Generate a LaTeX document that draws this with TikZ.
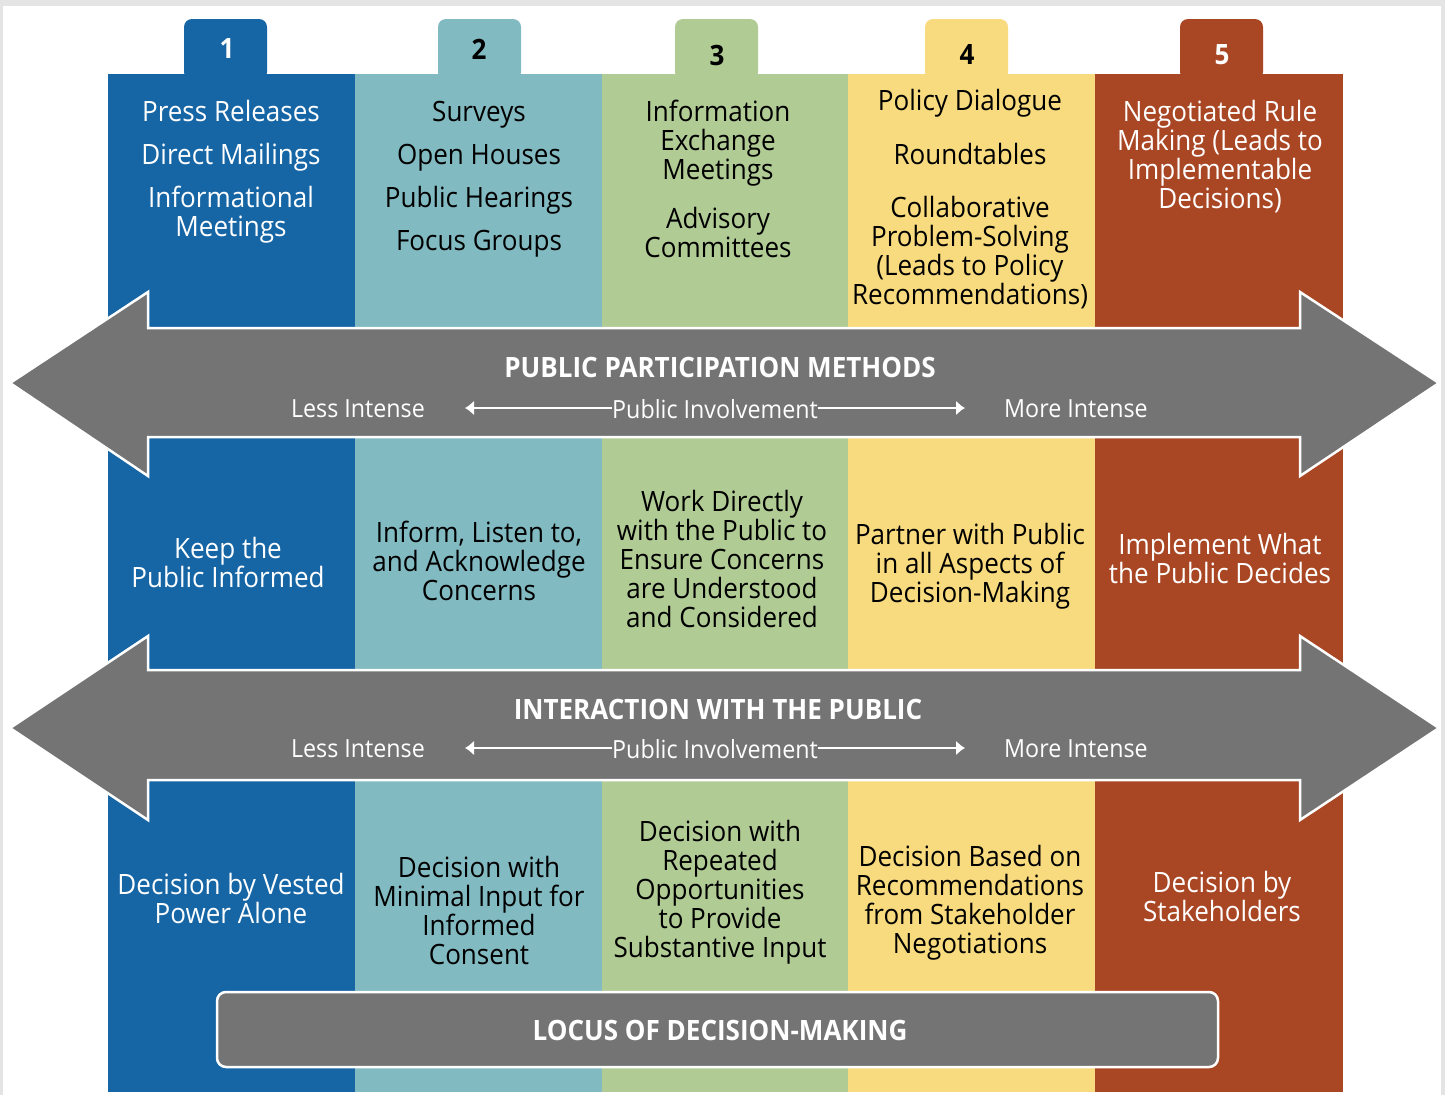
\documentclass[tikz,border=0pt]{standalone}
\usepackage{fontspec}
\setmainfont{Open Sans}[FakeStretch=0.93]
\usetikzlibrary{arrows.meta}
\definecolor{colblue}{HTML}{1665A5}
\definecolor{colteal}{HTML}{82BAC2}
\definecolor{colgreen}{HTML}{B0CB94}
\definecolor{colyellow}{HTML}{F8DB7E}
\definecolor{colred}{HTML}{A94725}
\definecolor{bandgray}{HTML}{747474}
\definecolor{framegray}{HTML}{E4E4E4}
\begin{document}
\begin{tikzpicture}[x=1pt,y=-1pt,
    txt/.style={align=center,inner sep=0pt,font=\fontsize{28}{29}\selectfont},
    wtxt/.style={txt,text=white},
    tabnum/.style={inner sep=0pt,text=white,font=\fontsize{28}{30}\selectfont\bfseries},
    head/.style={inner sep=0pt,text=white,font=\fontsize{28}{30}\selectfont\bfseries},
    small/.style={inner sep=0pt,text=white,font=\fontsize{25}{27}\selectfont},
    band/.style={fill=bandgray,draw=white,line width=2.5pt,line join=miter},
    tick/.style={white,line width=2pt,-{Latex[length=9pt,width=15pt]}}]
  \useasboundingbox (0,0) rectangle (1445,1095);
  \fill[framegray] (0,0) rectangle (1445,1095);
  \fill[white] (3,6) rectangle (1441,1095);
  % columns and tabs
  \foreach \cc/\xl/\tx in {colblue/108/184,colteal/355/438,colgreen/602/675,colyellow/848/925,colred/1095/1180} {
    \fill[\cc] (\xl,74) rectangle ++(247.5,1018);
    \fill[\cc,rounded corners=8pt] (\tx,80) -- (\tx,19) -- ++(83,0) -- ++(0,61) -- cycle;
  }
  \node[tabnum] (n1) at (227,49) {1};
  \node[tabnum,text=black] (n2) at (479,49) {2};
  \node[tabnum,text=black] (n3) at (717,55) {3};
  \node[tabnum,text=black] (n4) at (967,55) {4};
  \node[tabnum] (n5) at (1222,55) {5};
  % methods
  \node[wtxt] (m1) at (231,171.5) {Press Releases\\[14pt]Direct Mailings\\[14pt]Informational\\Meetings};
  \node[txt] (m2) at (479,179) {Surveys\\[14pt]Open Houses\\[14pt]Public Hearings\\[14pt]Focus Groups};
  \node[txt] (m3) at (718,179) {Information\\Exchange\\Meetings\\[20pt]Advisory\\Committees};
  \node[txt] (m4) at (970,199.5) {Policy Dialogue\\[25pt]Roundtables\\[24pt]Collaborative\\Problem-Solving\\(Leads to Policy\\Recommendations)};
  \node[wtxt] (m5) at (1220,156.5) {Negotiated Rule\\Making (Leads to\\Implementable\\Decisions)};
  % first band
  \draw[band] (10,383) -- (148,292) -- (148,328) -- (1300,328) -- (1300,292) -- (1439,383)
    -- (1300,476) -- (1300,437) -- (148,437) -- (148,476) -- cycle;
  \node[head] (h1) at (720,367) {PUBLIC PARTICIPATION METHODS};
  \node[small] (li1) at (358,409) {Less Intense};
  \node[small] (pi1) at (715,409) {Public Involvement};
  \node[small] (mi1) at (1076,409) {More Intense};
  \coordinate (la1) at (465,408);
  \coordinate (ra1) at (965,408);
  \draw[tick] (pi1.west |- la1) -- (la1);
  \draw[tick] (pi1.east |- ra1) -- (ra1);
  % interaction
  \node[wtxt] (i1) at (228,562) {Keep the\\Public Informed};
  \node[txt] (i2) at (479,561) {Inform, Listen to,\\and Acknowledge\\Concerns};
  \node[txt] (i3) at (722,559) {Work Directly\\with the Public to\\Ensure Concerns\\are Understood\\and Considered};
  \node[txt] (i4) at (970,566) {Partner with Public\\in all Aspects of\\Decision-Making};
  \node[wtxt] (i5) at (1220,558.5) {Implement What\\the Public Decides};
  % second band
  \draw[band] (10,728) -- (148,636) -- (148,670) -- (1300,670) -- (1300,636) -- (1439,728)
    -- (1300,820) -- (1300,780) -- (148,780) -- (148,820) -- cycle;
  \node[head] (h2) at (718,709) {INTERACTION WITH THE PUBLIC};
  \node[small] (li2) at (358,749) {Less Intense};
  \node[small] (pi2) at (715,749) {Public Involvement};
  \node[small] (mi2) at (1076,749) {More Intense};
  \coordinate (la2) at (465,748);
  \coordinate (ra2) at (965,748);
  \draw[tick] (pi2.west |- la2) -- (la2);
  \draw[tick] (pi2.east |- ra2) -- (ra2);
  % decisions
  \node[wtxt] (d1) at (231,898) {Decision by Vested\\Power Alone};
  \node[txt] (d2) at (479,910.5) {Decision with\\Minimal Input for\\Informed\\Consent};
  \node[txt] (d3) at (720,892) {Decision with\\Repeated\\Opportunities\\to Provide\\Substantive Input};
  \node[txt] (d4) at (970,902.5) {Decision Based on\\Recommendations\\from Stakeholder\\Negotiations};
  \node[wtxt] (d5) at (1222,896.5) {Decision by\\Stakeholders};
  % locus box
  \draw[fill=bandgray,draw=white,line width=2.5pt,rounded corners=9pt] (217,992) rectangle (1218,1067);
  \node[head] (lc) at (720,1030) {LOCUS OF DECISION-MAKING};
\end{tikzpicture}
\end{document}
